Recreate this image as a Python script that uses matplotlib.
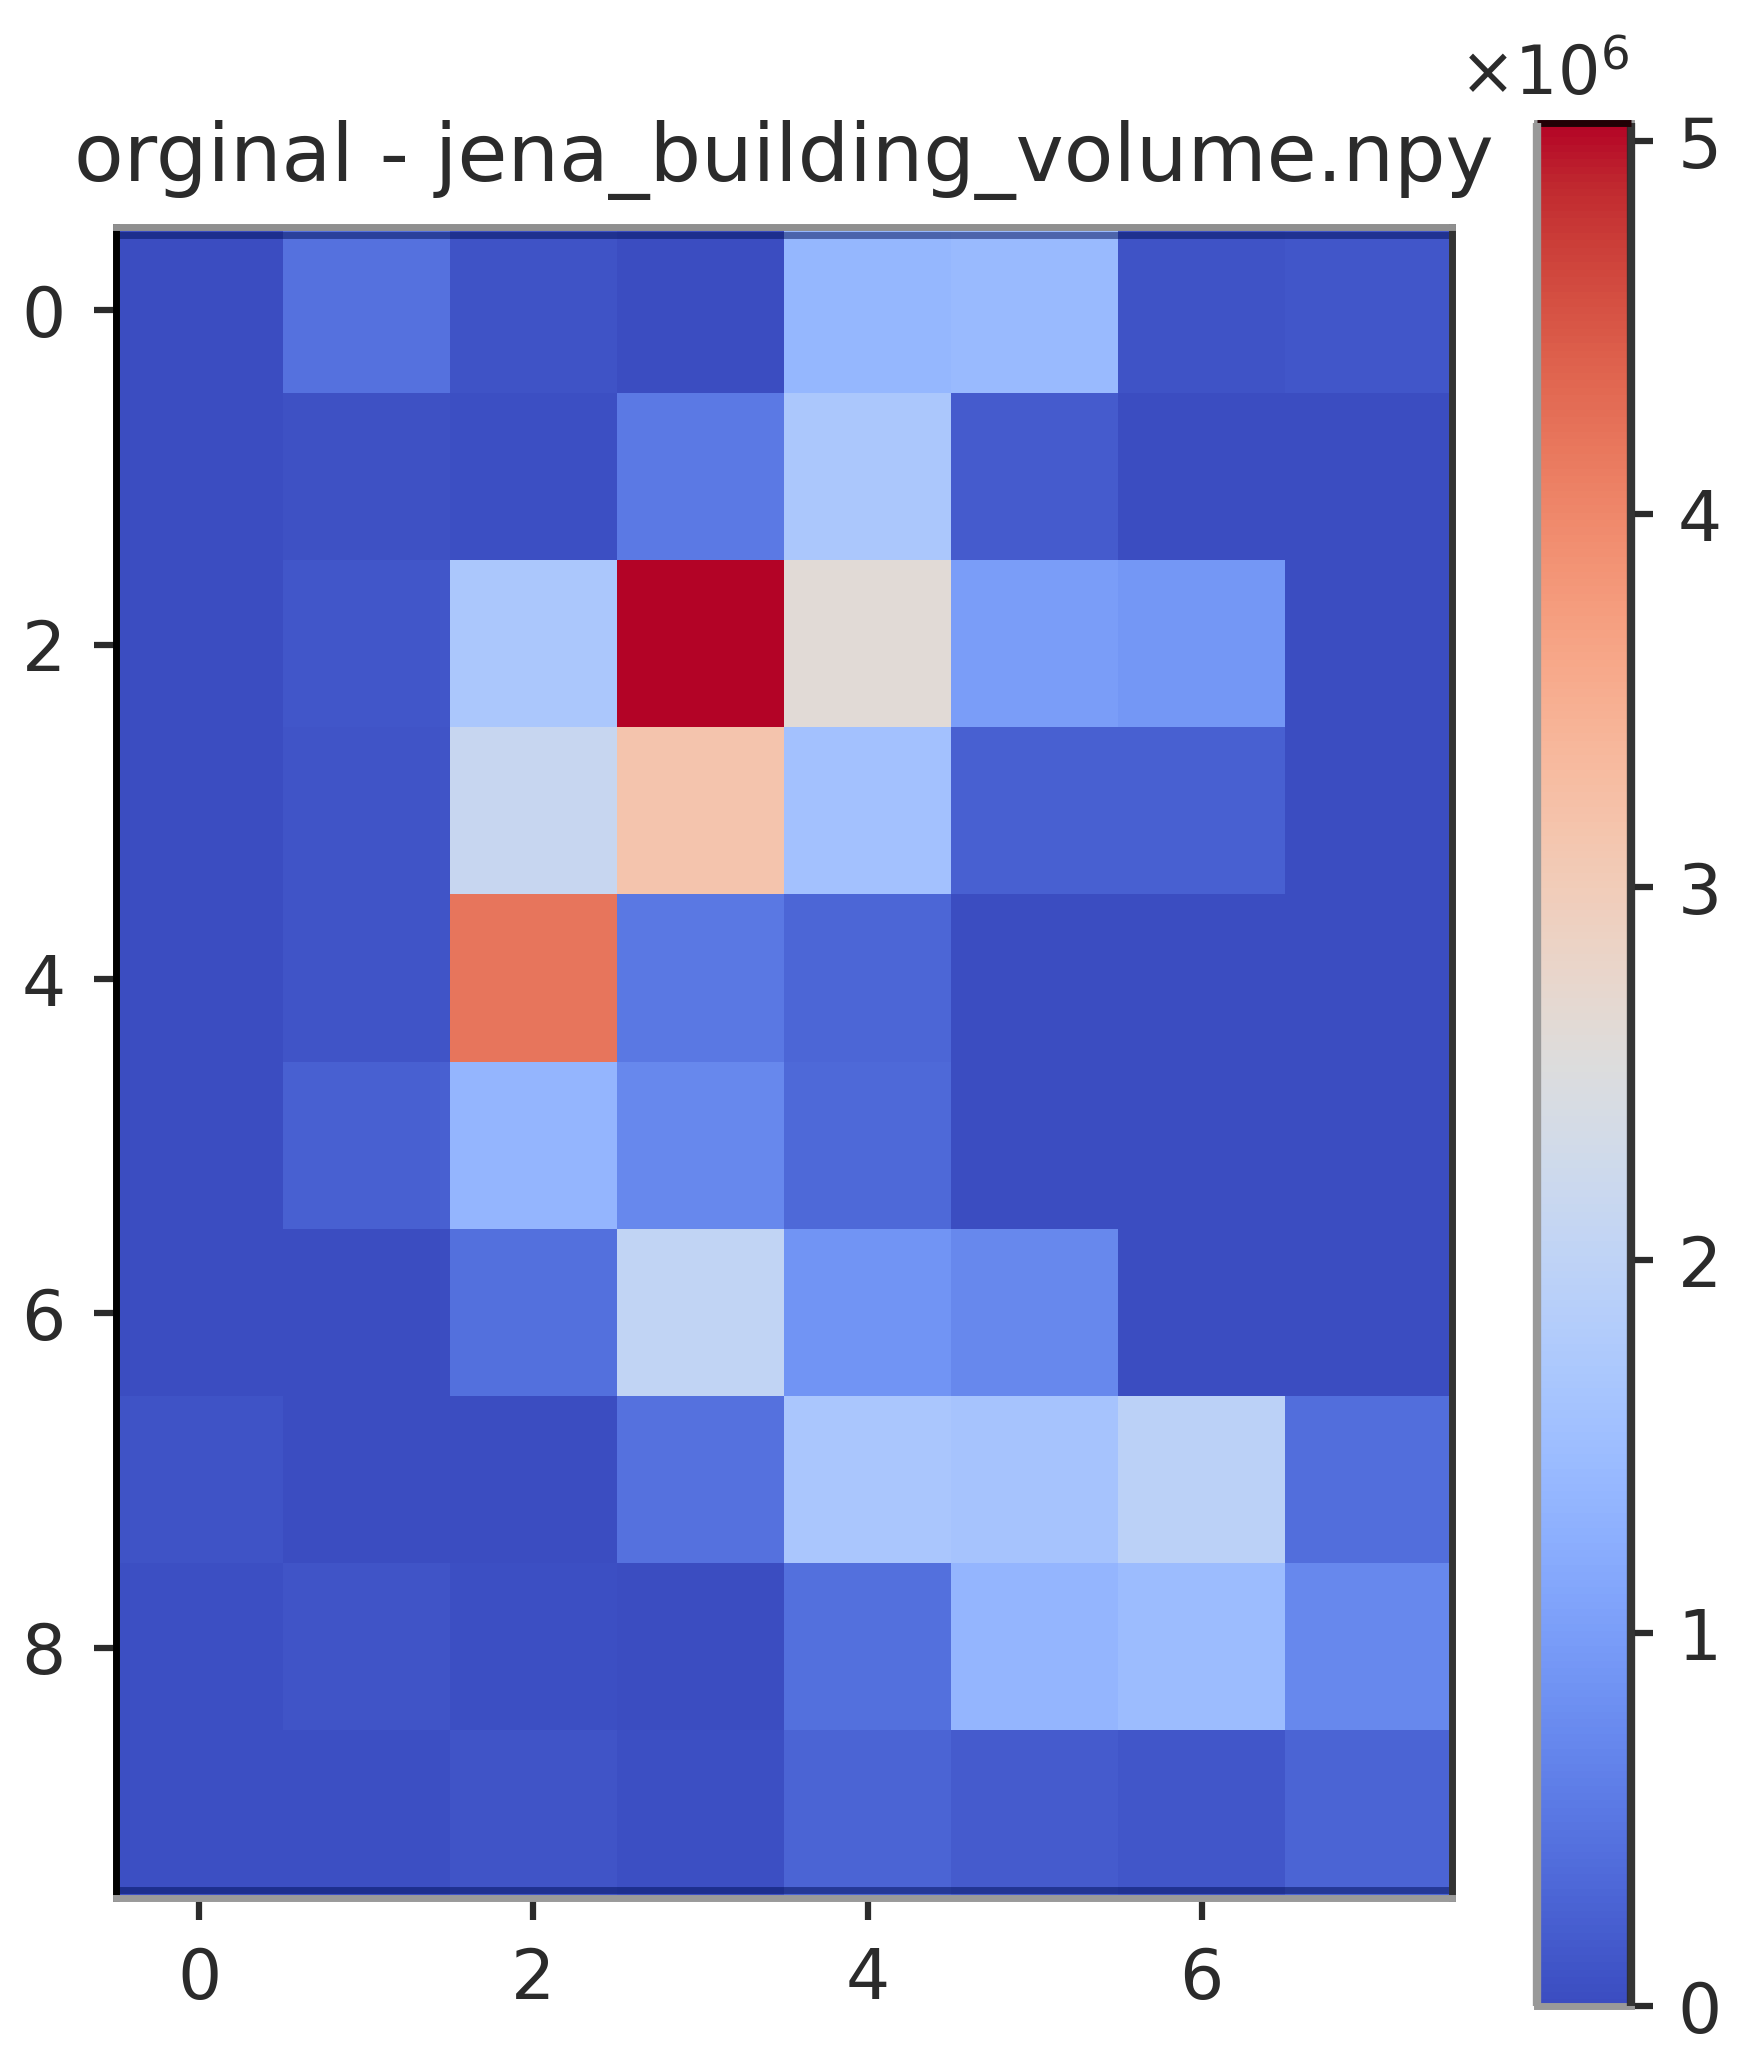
import numpy as np
import matplotlib
matplotlib.use("Agg")
import matplotlib.pyplot as plt
from matplotlib.ticker import ScalarFormatter

title = "orginal - jena_building_volume.npy"
offset_label = r"$\times10^{6}$"
row0 = [0.02, 0.45, 0.08, 0.03, 1.40, 1.45, 0.08, 0.13]
row1 = [0.02, 0.06, 0.05, 0.55, 1.70, 0.18, 0.02, 0.02]
row2 = [0.03, 0.13, 1.70, 5.05, 2.62, 1.00, 0.92, 0.03]
row3 = [0.03, 0.10, 2.15, 3.15, 1.58, 0.25, 0.25, 0.03]
row4 = [0.03, 0.10, 4.20, 0.52, 0.30, 0.03, 0.02, 0.02]
row5 = [0.03, 0.25, 1.38, 0.72, 0.35, 0.03, 0.02, 0.02]
row6 = [0.03, 0.03, 0.42, 2.05, 0.88, 0.72, 0.02, 0.02]
row7 = [0.08, 0.03, 0.03, 0.45, 1.68, 1.62, 1.95, 0.40]
row8 = [0.05, 0.10, 0.05, 0.03, 0.42, 1.38, 1.48, 0.72]
row9 = [0.05, 0.05, 0.10, 0.05, 0.28, 0.18, 0.13, 0.28]
values = np.array([row0, row1, row2, row3, row4, row5, row6, row7, row8, row9]) * 1e6
x_ticks = [0, 2, 4, 6]
y_ticks = [0, 2, 4, 6, 8]
cbar_ticks = [0, 1e6, 2e6, 3e6, 4e6, 5e6]

W, H = 1753, 2062
fig = plt.figure(figsize=(W / 100, H / 100), dpi=100)
ink = "#2b2b2b"
label_size = 50
ax = fig.add_axes([0.066, 1 - 0.9207, 0.7625, 0.9207 - 0.11])
im = ax.imshow(values, cmap="coolwarm", vmin=0, vmax=5.05e6, aspect="auto", interpolation="nearest")
ax.set_xticks(x_ticks)
ax.set_yticks(y_ticks)
ax.tick_params(axis="x", labelsize=label_size, length=16, width=4.5, colors=ink, pad=18)
ax.tick_params(axis="y", labelsize=label_size, length=16, width=4.5, colors=ink, pad=20)
ax.set_title(title, fontsize=58.5, color=ink, pad=33)
for name, colour in [("left", "#000000"), ("right", "#333333"), ("top", "#8f8f8f"), ("bottom", "#9a9a9a")]:
    ax.spines[name].set_linewidth(5)
    ax.spines[name].set_color(colour)
# darker inner edge along the top and bottom of the image
for y in (0.005, 0.995):
    ax.plot([0, 1], [y, y], transform=ax.transAxes, color="#00105a", alpha=0.5, lw=5,
            solid_capstyle="butt", clip_on=True)

cax = fig.add_axes([0.8765, 1 - 0.973, 0.054, 0.973 - 0.0595])
cb = fig.colorbar(im, cax=cax)
cb.set_ticks(cbar_ticks)
fmt = ScalarFormatter(useMathText=True)
fmt.set_powerlimits((0, 0))
cb.formatter = fmt
cb.update_ticks()
cax.tick_params(labelsize=label_size, length=16, width=4.5, colors=ink, pad=17)
cax.yaxis.get_offset_text().set_visible(False)
cax.text(0.08, 1.0075, offset_label, transform=cax.transAxes, fontsize=48, color=ink,
         ha="center", va="bottom")
cb.outline.set_linewidth(5)
cb.outline.set_edgecolor("#999999")
cax.plot([1, 1], [0, 1], transform=cax.transAxes, color="#2a2a2a", lw=6, clip_on=False,
         solid_capstyle="butt", alpha=0.9, zorder=10)
cax.plot([0, 1], [1, 1], transform=cax.transAxes, color="#200005", lw=5, clip_on=False,
         solid_capstyle="butt", zorder=10)
cax.plot([0, 0], [0, 1], transform=cax.transAxes, color="#999999", lw=6, clip_on=False,
         solid_capstyle="butt", zorder=10)
fig.savefig("out.png", dpi=100)
